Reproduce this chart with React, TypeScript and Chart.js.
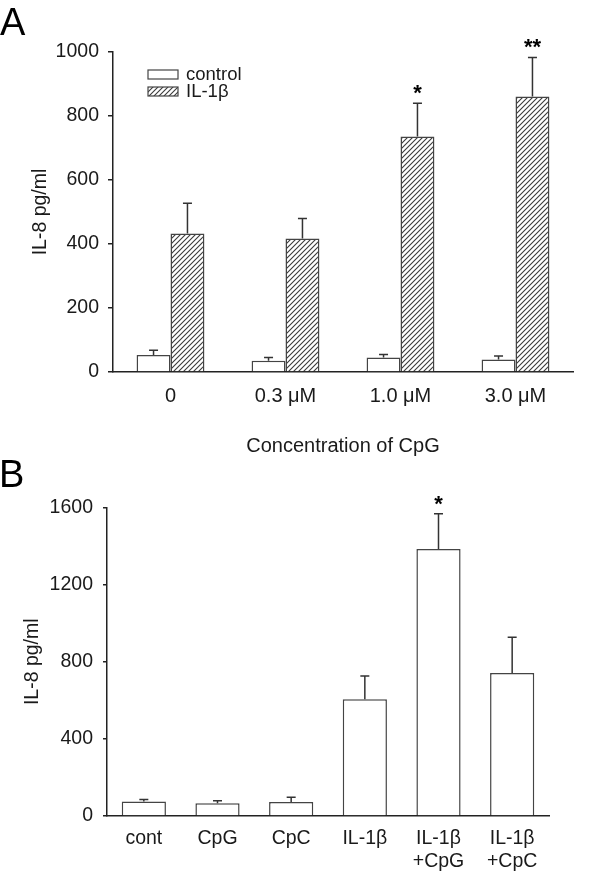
import React, { useEffect, useRef } from 'react';
import { Chart, registerables } from 'chart.js';

Chart.register(...registerables);

const FONT = '"Liberation Sans", Arial, Helvetica, sans-serif';
const INK = '#1a1a1a';
const EDGE = '#444444';

// ---------- Panel A data ----------
const concLabels = ['0', '0.3 μM', '1.0 μM', '3.0 μM'];
const controlValues = [53, 35, 45, 39];
const controlErrors = [15, 10, 10, 11];
const il1bValues = [433, 417, 736, 861];
const il1bErrors = [94, 63, 104, 122];
const il1bMarks = ['', '', '*', '**'];
const yTicksA = [0, 200, 400, 600, 800, 1000];
const legendLabelsA = ['control', 'IL-1β'];

// ---------- Panel B data ----------
const treatLabels = [['cont'], ['CpG'], ['CpC'], ['IL-1β'], ['IL-1β', '+CpG'], ['IL-1β', '+CpC']];
const treatValues = [75, 66, 73, 605, 1385, 742];
const treatErrors = [11, 13, 24, 121, 183, 185];
const treatMarks = ['', '', '', '', '*', ''];
const yTicksB = [0, 400, 800, 1200, 1600];

function makeHatch(): CanvasPattern | string {
  const c = document.createElement('canvas');
  const s = 5;
  c.width = s;
  c.height = s;
  const g = c.getContext('2d');
  if (!g) return '#999';
  g.fillStyle = '#ffffff';
  g.fillRect(0, 0, s, s);
  g.strokeStyle = '#3a3a3a';
  g.lineWidth = 1.1;
  g.beginPath();
  g.moveTo(0, s);
  g.lineTo(s, 0);
  g.moveTo(-1, 1);
  g.lineTo(1, -1);
  g.moveTo(s - 1, s + 1);
  g.lineTo(s + 1, s - 1);
  g.stroke();
  return g.createPattern(c, 'repeat') || '#999';
}

const errorBarPlugin = {
  id: 'errorBars',
  afterDatasetsDraw(chart: any) {
    const ctx = chart.ctx;
    const yScale = chart.scales.y;
    chart.data.datasets.forEach((ds: any, di: number) => {
      const errs: number[] | undefined = ds.errors;
      if (!errs) return;
      const meta = chart.getDatasetMeta(di);
      meta.data.forEach((bar: any, i: number) => {
        const top = yScale.getPixelForValue(ds.data[i] + errs[i]);
        ctx.save();
        ctx.strokeStyle = '#333';
        ctx.lineWidth = 1.5;
        ctx.beginPath();
        ctx.moveTo(bar.x, bar.y);
        ctx.lineTo(bar.x, top);
        ctx.moveTo(bar.x - 4.5, top);
        ctx.lineTo(bar.x + 4.5, top);
        ctx.stroke();
        const mark = ds.marks ? ds.marks[i] : '';
        if (mark) {
          ctx.fillStyle = '#000';
          ctx.font = `bold 22px ${FONT}`;
          ctx.textAlign = 'center';
          ctx.textBaseline = 'alphabetic';
          ctx.fillText(mark, bar.x, top - 3);
        }
        ctx.restore();
      });
    });
  },
};

const panelLetterPlugin = {
  id: 'panelLetter',
  afterDraw(chart: any, _args: any, opts: any) {
    if (!opts || !opts.text) return;
    const ctx = chart.ctx;
    ctx.save();
    ctx.fillStyle = '#000';
    ctx.font = `38px ${FONT}`;
    ctx.textAlign = 'left';
    ctx.textBaseline = 'alphabetic';
    ctx.fillText(opts.text, opts.x, opts.y);
    ctx.restore();
  },
};

function makeLegendPlugin(hatch: CanvasPattern | string) {
  return {
    id: 'boxLegend',
    afterDraw(chart: any) {
      const ctx = chart.ctx;
      const area = chart.chartArea;
      const x0 = area.left + 35;
      const y0 = area.top + 18;
      const fills = ['#ffffff', hatch];
      ctx.save();
      legendLabelsA.forEach((label, i) => {
        const y = y0 + i * 17;
        ctx.fillStyle = fills[i] as any;
        ctx.fillRect(x0, y, 30, 9);
        ctx.strokeStyle = EDGE;
        ctx.lineWidth = 1.2;
        ctx.strokeRect(x0, y, 30, 9);
        ctx.fillStyle = INK;
        ctx.font = `18.5px ${FONT}`;
        ctx.textAlign = 'left';
        ctx.textBaseline = 'middle';
        ctx.fillText(label, x0 + 38, y + 5);
      });
      ctx.restore();
    },
  };
}

const plainTick = (v: any) => String(v);

function PanelA() {
  const ref = useRef<HTMLCanvasElement>(null);
  useEffect(() => {
    if (!ref.current) return;
    const hatch = makeHatch();
    const chart = new Chart(ref.current, {
      type: 'bar',
      data: {
        labels: concLabels,
        datasets: [
          {
            label: legendLabelsA[0],
            data: controlValues,
            backgroundColor: '#ffffff',
            borderColor: EDGE,
            borderWidth: 1.5,
            errors: controlErrors,
          } as any,
          {
            label: legendLabelsA[1],
            data: il1bValues,
            backgroundColor: hatch as any,
            borderColor: EDGE,
            borderWidth: 1.5,
            errors: il1bErrors,
            marks: il1bMarks,
          } as any,
        ],
      },
      options: {
        responsive: false,
        animation: false,
        layout: { padding: { left: 0, right: 27, top: 52, bottom: 0 } },
        datasets: { bar: { barPercentage: 1, categoryPercentage: 0.59 } },
        plugins: {
          legend: { display: false },
          tooltip: { enabled: false },
          panelLetter: { text: 'A', x: 0, y: 35 },
        } as any,
        scales: {
          x: {
            grid: { display: false, drawTicks: false },
            border: { display: true, color: '#222', width: 1.5 },
            ticks: { color: INK, font: { family: FONT, size: 20 }, padding: 12, maxRotation: 0, autoSkip: false },
            title: {
              display: true,
              text: 'Concentration of CpG',
              color: INK,
              font: { family: FONT, size: 20 },
              padding: { top: 0, bottom: 7 },
            },
            afterFit: (s: any) => {
              s.height = 93;
            },
          },
          y: {
            min: 0,
            max: 1000,
            afterBuildTicks: (s: any) => {
              s.ticks = yTicksA.map((v) => ({ value: v }));
            },
            grid: { drawOnChartArea: false, drawTicks: true, tickLength: 5, color: '#222', lineWidth: 1.5 },
            border: { display: true, color: '#222', width: 1.5 },
            ticks: { color: INK, font: { family: FONT, size: 19.5 }, padding: 9, callback: plainTick },
            title: {
              display: true,
              text: 'IL-8 pg/ml',
              color: INK,
              font: { family: FONT, size: 19.5 },
              padding: { top: 29, bottom: 0 },
            },
            afterFit: (s: any) => {
              s.width = 113;
            },
          },
        },
      },
      plugins: [errorBarPlugin, panelLetterPlugin, makeLegendPlugin(hatch)],
    });
    return () => chart.destroy();
  }, []);
  return (
    <canvas
      ref={ref}
      width={600}
      height={465}
      style={{ position: 'absolute', left: 0, top: 0, width: 600, height: 465 }}
    />
  );
}

function PanelB() {
  const ref = useRef<HTMLCanvasElement>(null);
  useEffect(() => {
    if (!ref.current) return;
    const chart = new Chart(ref.current, {
      type: 'bar',
      data: {
        labels: treatLabels as any,
        datasets: [
          {
            label: 'IL-8',
            data: treatValues,
            backgroundColor: '#ffffff',
            borderColor: EDGE,
            borderWidth: 1.5,
            errors: treatErrors,
            marks: treatMarks,
          } as any,
        ],
      },
      options: {
        responsive: false,
        animation: false,
        layout: { padding: { left: 0, right: 51, top: 57.5, bottom: 0 } },
        datasets: { bar: { barPercentage: 0.6, categoryPercentage: 1 } },
        plugins: {
          legend: { display: false },
          tooltip: { enabled: false },
          panelLetter: { text: 'B', x: -1, y: 36.7 },
        } as any,
        scales: {
          x: {
            grid: { display: false, drawTicks: false },
            border: { display: true, color: '#222', width: 1.5 },
            ticks: { color: INK, font: { family: FONT, size: 19.5, lineHeight: 1.17 }, padding: 11.5, maxRotation: 0, autoSkip: false },
            afterFit: (s: any) => {
              s.height = 57;
            },
          },
          y: {
            min: 0,
            max: 1600,
            afterBuildTicks: (s: any) => {
              s.ticks = yTicksB.map((v) => ({ value: v }));
            },
            grid: { drawOnChartArea: false, drawTicks: true, tickLength: 4, color: '#222', lineWidth: 1.5 },
            border: { display: true, color: '#222', width: 1.5 },
            ticks: { color: INK, font: { family: FONT, size: 19.5 }, padding: 10, callback: plainTick },
            title: {
              display: true,
              text: 'IL-8 pg/ml',
              color: INK,
              font: { family: FONT, size: 19.5 },
              padding: { top: 21, bottom: 0 },
            },
            afterFit: (s: any) => {
              s.width = 107;
            },
          },
        },
      },
      plugins: [errorBarPlugin, panelLetterPlugin],
    });
    return () => chart.destroy();
  }, []);
  return (
    <canvas
      ref={ref}
      width={600}
      height={423}
      style={{ position: 'absolute', left: 0, top: 450, width: 600, height: 423 }}
    />
  );
}

export default function App() {
  return (
    <div
      style={{
        position: 'absolute',
        left: 0,
        top: 0,
        width: 600,
        height: 873,
        background: '#ffffff',
        overflow: 'hidden',
      }}
    >
      <PanelA />
      <PanelB />
    </div>
  );
}
